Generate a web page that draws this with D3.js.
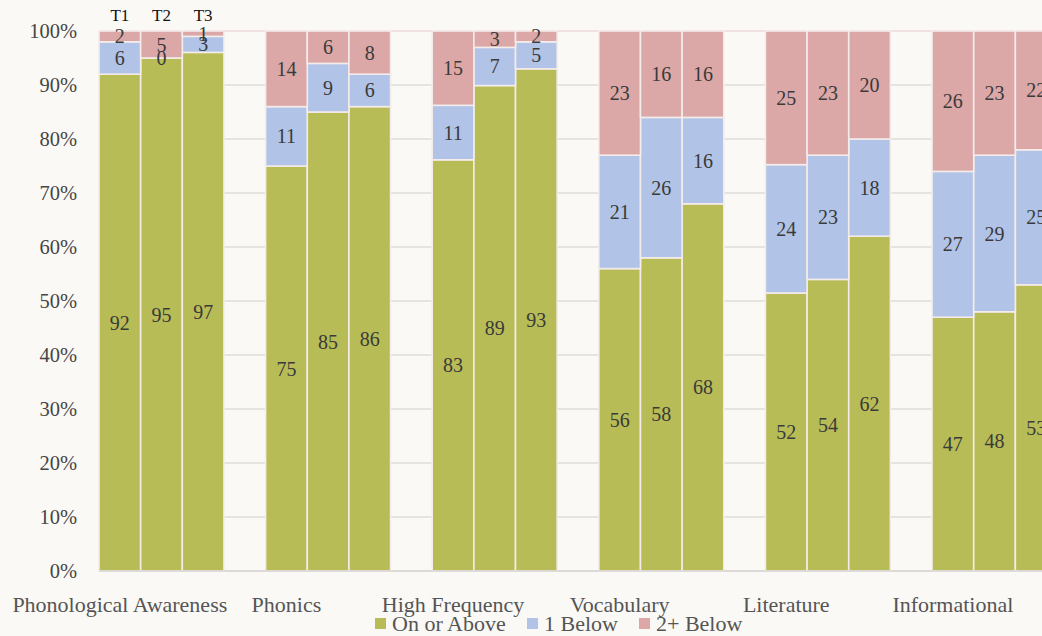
<!DOCTYPE html>
<html>
<head>
<meta charset="utf-8">
<script src="https://cdn.jsdelivr.net/npm/d3@7"></script>
<style>
  html, body { margin: 0; padding: 0; background: #faf9f6; }
  svg { display: block; font-family: "Liberation Serif", "DejaVu Serif", serif; }
</style>
</head>
<body>
<svg id="chart" width="1042" height="636"></svg>
<script>
// Reading benchmark results by skill area and testing window
const categories = ["Phonological Awareness", "Phonics", "High Frequency", "Vocabulary", "Literature", "Informational"];
const terms = ["T1", "T2", "T3"];
const seriesNames = ["On or Above", "1 Below", "2+ Below"];
const seriesColors = ["#b8bc56", "#b1c3e6", "#dba7a7"];

// Percent of students per level, one entry per [category][term]
const onOrAbove = [[92, 95, 97], [75, 85, 86], [83, 89, 93], [56, 58, 68], [52, 54, 62], [47, 48, 53]];
const oneBelow  = [[6, 0, 3],   [11, 9, 6],   [11, 7, 5],   [21, 26, 16], [24, 23, 18], [27, 29, 25]];
const twoBelow  = [[2, 5, 1],   [14, 6, 8],   [15, 3, 2],   [23, 16, 16], [25, 23, 20], [26, 23, 22]];
const yTicks = [0, 0.1, 0.2, 0.3, 0.4, 0.5, 0.6, 0.7, 0.8, 0.9, 1.0];

const rows = [];
categories.forEach((c, i) => terms.forEach((t, j) => {
  rows.push({ category: c, term: t,
    "On or Above": onOrAbove[i][j], "1 Below": oneBelow[i][j], "2+ Below": twoBelow[i][j] });
}));

const svg = d3.select("#chart");
const textColor = "#454545";

const x0 = d3.scaleBand().domain(categories).range([99, 1057]).paddingInner(0.25).paddingOuter(0).align(0);
const x1 = d3.scaleBand().domain(terms).range([0, x0.bandwidth()]).padding(0);
const y = d3.scaleLinear().domain([0, 1]).range([571, 31]);

// 100% stacked layout
const stack = d3.stack().keys(seriesNames).offset(d3.stackOffsetExpand);
const layers = stack(rows);

// gridlines
svg.append("g").selectAll("line").data(yTicks).join("line")
  .attr("x1", 99).attr("x2", 1100)
  .attr("y1", d => y(d)).attr("y2", d => y(d))
  .attr("stroke", d => d === 1 ? "#eed9d9" : "#dfdcd8")
  .attr("stroke-width", 1.5);

// y axis labels
const yAxis = d3.axisLeft(y).tickValues(yTicks).tickFormat(d3.format(".0%")).tickSize(0).tickPadding(0);
const ya = svg.append("g").attr("transform", "translate(77,0)").call(yAxis);
ya.select(".domain").remove();
ya.selectAll("text").attr("font-size", 20.5).attr("fill", textColor)
  .attr("font-family", "\"Liberation Serif\", serif");

// bars
const barX = d => x0(d.data.category) + x1(d.data.term);
layers.forEach((layer, k) => {
  svg.append("g").selectAll("rect").data(layer).join("rect")
    .attr("x", barX)
    .attr("width", x1.bandwidth())
    .attr("y", d => y(d[1]))
    .attr("height", d => y(d[0]) - y(d[1]))
    .attr("fill", seriesColors[k])
    .attr("stroke", "#f3ecea")
    .attr("stroke-width", 1.6);
});

// baseline
svg.append("line").attr("x1", 99).attr("x2", 1100).attr("y1", y(0)).attr("y2", y(0))
  .attr("stroke", "#d9d6d3").attr("stroke-width", 1.5);

// data labels
layers.forEach((layer, k) => {
  svg.append("g").selectAll("text").data(layer).join("text")
    .attr("x", d => barX(d) + x1.bandwidth() / 2)
    .attr("y", d => y((d[0] + d[1]) / 2))
    .attr("dy", "0.35em")
    .attr("text-anchor", "middle")
    .attr("font-size", 20)
    .attr("fill", "#3a3a3a")
    .text(d => d.data[seriesNames[k]]);
});

// term labels above the first group
svg.append("g").selectAll("text").data(terms).join("text")
  .attr("x", t => x0(categories[0]) + x1(t) + x1.bandwidth() / 2)
  .attr("y", 21)
  .attr("text-anchor", "middle")
  .attr("font-size", 17)
  .attr("fill", "#111")
  .text(t => t);

// category labels, centred under each group's first bar
svg.append("g").selectAll("text").data(categories).join("text")
  .attr("x", c => x0(c) + x1(terms[0]) + x1.bandwidth() / 2)
  .attr("y", 612)
  .attr("text-anchor", "middle")
  .attr("font-size", 22)
  .attr("fill", "#555")
  .text(c => c);

// legend
const legendX = [375, 527, 639];
const lg = svg.append("g").selectAll("g").data(seriesNames).join("g")
  .attr("transform", (d, i) => `translate(${legendX[i]},0)`);
lg.append("rect").attr("x", 0).attr("y", 618).attr("width", 11).attr("height", 11)
  .attr("fill", (d, i) => seriesColors[i]);
lg.append("text").attr("x", 17).attr("y", 631).attr("font-size", 22).attr("fill", "#555").text(d => d);
</script>
</body>
</html>
